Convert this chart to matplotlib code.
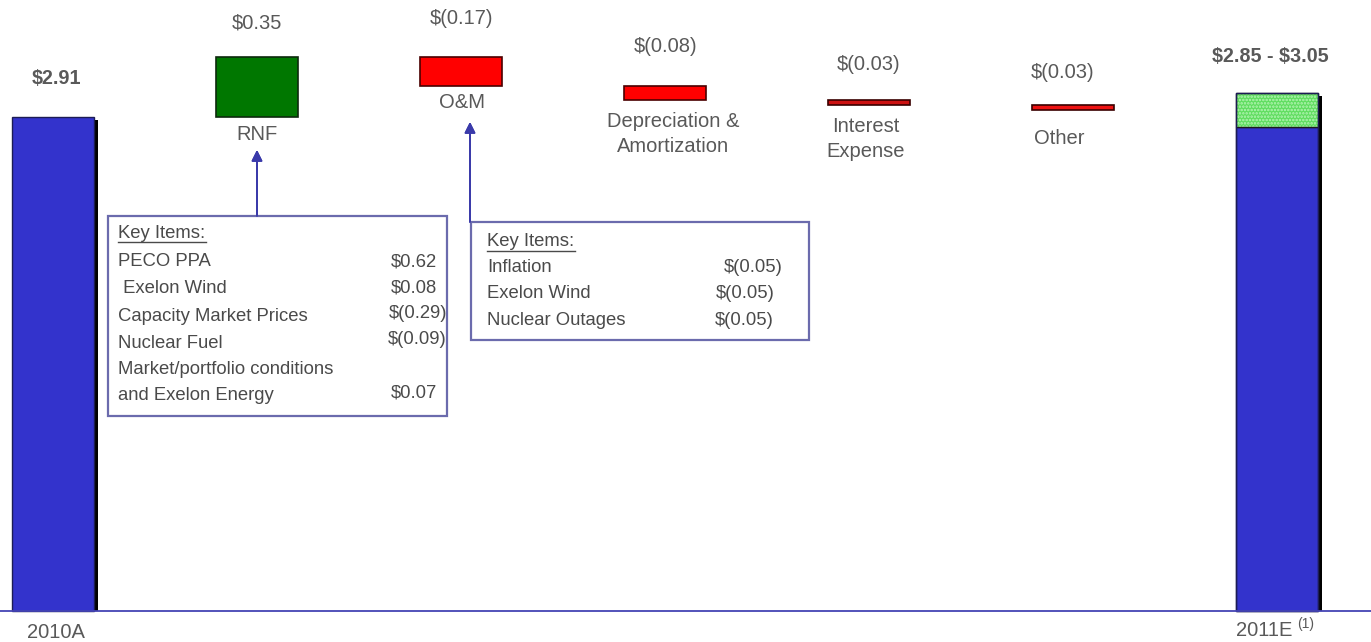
import numpy as np
import matplotlib.pyplot as plt
from matplotlib.patches import Rectangle

# chart values
categories = ['2010A', 'RNF', 'O&M', 'Depreciation &\nAmortization',
              'Interest\nExpense', 'Other', '2011E']
start_value = 2.91
deltas = [0.35, -0.17, -0.08, -0.03, -0.03]
guidance_low = 2.85
guidance_high = 3.05
value_labels = ['$2.91', '$0.35', '$(0.17)', '$(0.08)', '$(0.03)', '$(0.03)', '$2.85 - $3.05']

rnf_items = ['PECO PPA', ' Exelon Wind', 'Capacity Market Prices', 'Nuclear Fuel',
             'Market/portfolio conditions', 'and Exelon Energy']
rnf_values = ['$0.62', '$0.08', '$(0.29)', '$(0.09)', '', '$0.07']
om_items = ['Inflation', 'Exelon Wind', 'Nuclear Outages']
om_values = ['$(0.05)', '$(0.05)', '$(0.05)']

W, H = 1371, 642
GREY = '#595959'
BOX_TXT = '#4a4a4a'
BLUE = '#3333cc'
LINE_BLUE = '#4444b4'
BOX_EDGE = '#6b6bad'


def px(x, y):
    return x / W, 1 - y / H


fig = plt.figure(figsize=(W / 100, H / 100), dpi=100)
plt.rcParams['font.family'] = ['Liberation Sans', 'DejaVu Sans']
ax = fig.add_axes([0, 0, 1, 1])
ax.set_xlim(-53 / 204, (W - 53) / 204)
ax.set_ylim(-(H - 611) / 169.8, 611 / 169.8)
ax.axis('off')

width = 0.405
x = np.arange(len(categories))

# waterfall levels
levels = start_value + np.concatenate([[0], np.cumsum(deltas)])
step_bottoms = np.minimum(levels[:-1], levels[1:])
step_heights = np.abs(np.diff(levels))
step_colors = ['#007700', '#ff0000', '#ff0000', '#cc1111', '#ee1111']
step_edges = ['#0d2a0d', '#4a0000', '#4a0000', '#3a0000', '#3a0000']

# shadows behind the total bars
sx = 4 / 204
sy = 3 / 169.8
ax.bar([x[0] + sx, x[-1] + sx], [start_value - sy, guidance_high - sy], width=width,
       color='black', zorder=1)

ax.bar(x[0], start_value, width=width, color=BLUE, edgecolor='#1c1c55', lw=1, zorder=2)
ax.bar(x[1:-1], step_heights, bottom=step_bottoms, width=width, color=step_colors,
       edgecolor=step_edges, lw=1.2, zorder=2)
ax.bar(x[-1], guidance_low, width=width, color=BLUE, edgecolor='#1c1c55', lw=1, zorder=2)
plt.rcParams['hatch.linewidth'] = 1.2
ax.bar(x[-1], guidance_high - guidance_low, bottom=guidance_low, width=width,
       color='#5fdd5f', edgecolor='#b6f5b6', hatch='.....', lw=0, zorder=2)
ax.bar(x[-1], guidance_high - guidance_low, bottom=guidance_low, width=width,
       fill=False, edgecolor='#1c1c1c', lw=1, zorder=3)
ax.bar(x[-1], guidance_high, width=width, fill=False, edgecolor='#1c1c55', lw=1, zorder=3)

ax.axhline(0, color=LINE_BLUE, lw=1.3, zorder=4)

# value labels above bars
val_pos = [(56, 79), (257, 23), (462, 19), (666, 47), (869, 65), (1063, 73), (1270, 56)]
for i, (lab, (px_x, px_y)) in enumerate(zip(value_labels, val_pos)):
    bold = i in (0, len(value_labels) - 1)
    fig.text(*px(px_x, px_y), lab, ha='center', va='center', color=GREY,
             fontsize=14.2 if bold else 14.5, fontweight='bold' if bold else 'normal',
             parse_math=False)

# category labels
cat_pos = [(56, 632), (257, 134), (462, 103), (673, 134), (866, 139), (1059, 138), (1264, 631)]
for lab, (px_x, px_y) in zip(categories, cat_pos):
    fig.text(*px(px_x, px_y), lab, ha='center', va='center', color=GREY,
             fontsize=14.5, linespacing=1.4, parse_math=False)
fig.text(*px(1297, 624), '(1)', ha='left', va='center', color=GREY, fontsize=10)

# key item boxes
fig.patches.append(Rectangle(px(108, 416), (447 - 108) / W, (416 - 216) / H,
                             transform=fig.transFigure, fill=False,
                             edgecolor=BOX_EDGE, lw=1.6))
fig.patches.append(Rectangle(px(471, 340), (809 - 471) / W, (340 - 222) / H,
                             transform=fig.transFigure, fill=False,
                             edgecolor=BOX_EDGE, lw=1.6))

# arrows from boxes up to bars
for (x0, y0, y1) in [(257, 216, 150), (470, 222, 122)]:
    fig.add_artist(plt.annotate('', xy=px(x0, y1), xytext=px(x0, y0),
                                xycoords='figure fraction', textcoords='figure fraction',
                                arrowprops=dict(arrowstyle='-|>', color='#3a3aaa', lw=1.3,
                                                mutation_scale=16, shrinkA=0, shrinkB=0)))


def key_box(left, title_y, rows_y, items, values, right_x, val_y):
    fig.text(*px(left, title_y), 'Key Items:', ha='left', va='center', color=BOX_TXT,
             fontsize=13.3)
    fig.add_artist(plt.Line2D([left / W, (left + 88) / W], [1 - (title_y + 9) / H] * 2,
                              transform=fig.transFigure, color=BOX_TXT, lw=1))
    for name, y in zip(items, rows_y):
        fig.text(*px(left, y), name, ha='left', va='center', color=BOX_TXT, fontsize=13.3)
    for val, rx, y in zip(values, right_x, val_y):
        if val:
            fig.text(*px(rx, y), val, ha='right', va='center', color=BOX_TXT,
                     fontsize=13.3, parse_math=False)


key_box(118, 233, [261, 288, 316, 343, 369, 395], rnf_items, rnf_values,
        [437, 437, 447, 447, 437, 437], [262, 288, 313, 340, 369, 393])
key_box(487, 242, [267, 293, 320], om_items, om_values,
        [783, 775, 774], [267, 293, 320])

fig.savefig('out.png', dpi=100)
